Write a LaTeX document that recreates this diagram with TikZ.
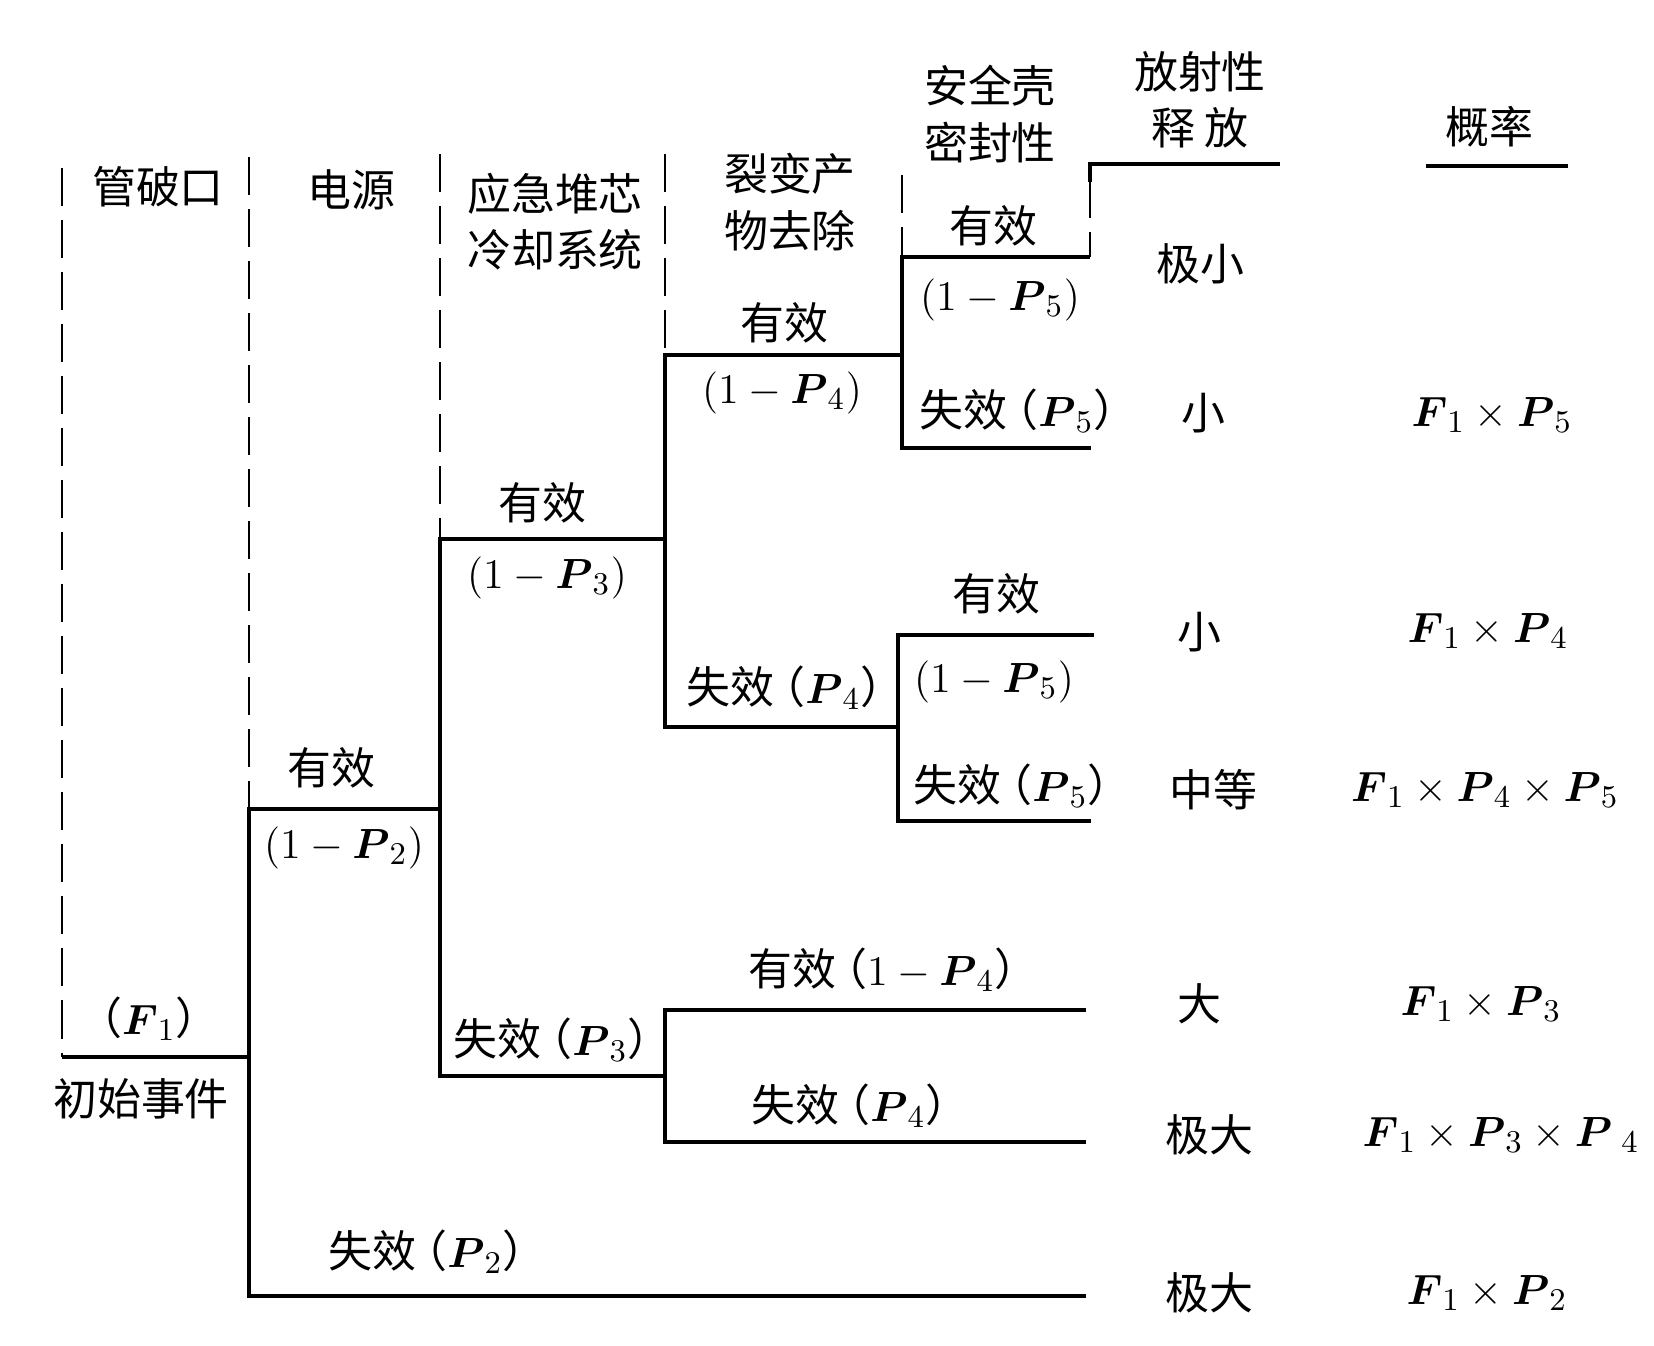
\documentclass[tikz,border=0pt]{standalone}
\usepackage{amsmath}
\usepackage{fontspec}
\newfontfamily\cjk{Noto Sans CJK SC}
\newcommand{\bP}[1]{\boldsymbol{P}_{#1}}
\newcommand{\bF}{\boldsymbol{F}_1}
\newcommand{\lpar}{\kern-0.3em（}
\newcommand{\rpar}{）\kern-0.3em}

\begin{document}
\begin{tikzpicture} [x=0.01cm, y=-0.01cm,
                every node/.style={inner sep=0pt, align=center, font=\cjk\fontsize{12.5}{16}\selectfont},
                tree_line/.style={draw=black, line width=1.4pt}]
                \tikzset{guide line/.style={draw=black, line width=0.6pt, dash pattern=on 0.38cm off 0.14cm}}
                \useasboundingbox (0,0) rectangle (1654,1346);
                % branch points
                \coordinate (e0) at (62,1057);
                \coordinate (e1) at (249,1057);
                \coordinate (b2) at (440,809);
                \coordinate (b3) at (665,539);
                \coordinate (b3b) at (665,1076);
                \coordinate (b4) at (902,355);
                \coordinate (b4b) at (898,727);
                % branch ends
                \coordinate (t2) at (1086,1296);
                \coordinate (t5a) at (1090,257);
                \coordinate (t5b) at (1091,448);
                \coordinate (t6a) at (1094,635);
                \coordinate (t6b) at (1091,821);
                \coordinate (t7a) at (1086,1010);
                \coordinate (t7b) at (1086,1142);
                % column guides
                \draw [guide line] (62,168) -- (e0);
                \draw [guide line] (249,157) -- (249,809);
                \draw [guide line] (440,154) -- (440,539);
                \draw [guide line] (665,154) -- (665,355);
                \draw [guide line] (902,175) -- (902,257);
                \draw [guide line] (1090,180) -- (t5a);
                \draw [tree_line] (1090,182) -- (1090,164) -- (1280,164);
                \draw [tree_line] (1426,166) -- (1568,166);
                % tree
                \draw [tree_line] (e0) -- (e1);
                \draw [tree_line] (b2) -| (e1) |- (t2);
                \draw [tree_line] (b3) -| (b2) |- (b3b);
                \draw [tree_line] (b4) -| (b3) |- (b4b);
                \draw [tree_line] (t5a) -| (b4) |- (t5b);
                \draw [tree_line] (t6a) -| (b4b) |- (t6b);
                \draw [tree_line] (t7a) -| (b3b) |- (t7b);
                % headings
                \node (h1) at (158,187) {管破口};
                \node (h2) at (351,190) {电源};
                \node (h3) at (555,222) {应急堆芯\\冷却系统};
                \node (h4) at (790,202) {裂变产\\物去除};
                \node (h5) at (990,114) {安全壳\\密封性};
                \node (h6) at (1200,100) {放射性\\释 放};
                \node (h7) at (1489,127) {概率};
                % branch labels
                \node (f1) at (149,1019) {\lpar$\bF$\rpar};
                \node (ie) at (141,1099) {初始事件};
                \node (l2a) at (331,768) {有效};
                \node (l2b) at (344,848) {$(1-\bP{2})$};
                \node (l2c) at (431,1252) {失效\lpar$\bP{2}$\rpar};
                \node (l3a) at (542,503) {有效};
                \node (l3b) at (547,578) {$(1-\bP{3})$};
                \node (l3c) at (556,1040) {失效\lpar$\bP{3}$\rpar};
                \node (l4a) at (784,323) {有效};
                \node (l4b) at (782,393) {$(1-\bP{4})$};
                \node (l4c) at (789,688) {失效\lpar$\bP{4}$\rpar};
                \node (l4d) at (887,970) {有效\lpar$1-\bP{4}$\rpar};
                \node (l4e) at (854,1106) {失效\lpar$\bP{4}$\rpar};
                \node (l5a) at (993,226) {有效};
                \node (l5b) at (1000,300) {$(1-\bP{5})$};
                \node (l5c) at (1022,411) {失效\lpar$\bP{5}$\rpar};
                \node (l5d) at (996,594) {有效};
                \node (l5e) at (994,682) {$(1-\bP{5})$};
                \node (l5f) at (1016,786) {失效\lpar$\bP{5}$\rpar};
                % outcomes
                \node (r1) at (1200,264) {极小};
                \node (r2) at (1203,413) {小};
                \node (r3) at (1199,632) {小};
                \node (r4) at (1213,790) {中等};
                \node (r5) at (1199,1004) {大};
                \node (r6) at (1209,1135) {极大};
                \node (r7) at (1209,1293) {极大};
                \node (q2) at (1492,415) {$\bF\times\bP{5}$};
                \node (q3) at (1488,631) {$\bF\times\bP{4}$};
                \node (q4) at (1485,790) {$\bF\times\bP{4}\times\bP{5}$};
                \node (q5) at (1481,1004) {$\bF\times\bP{3}$};
                \node (q6) at (1501,1135) {$\bF\times\bP{3}\times\bP{\;4}$};
                \node (q7) at (1487,1293) {$\bF\times\bP{2}$};
            \end{tikzpicture}
\end{document}
